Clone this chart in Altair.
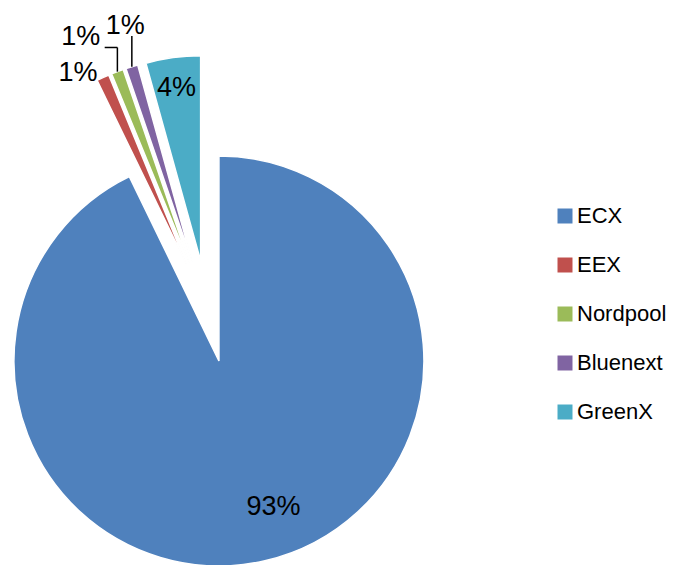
import math
import altair as alt
import pandas as pd

# ---- data ----
categories = ["ECX", "EEX", "Nordpool", "Bluenext", "GreenX"]
shares = [92.8, 1.0, 0.95, 0.95, 4.3]
colors = ["#4F81BD", "#C0504D", "#9BBB59", "#8064A2", "#4BACC6"]

# ---- layout (not data) ----
W, H = 667, 557
CX, CY = 199.5, 303.3      # pie centre (plot px)
R = 205                    # radius
EXPLODE = 51               # explosion distance of every slice
FONT = "Liberation Sans"
# label placement: inside flag and small nudges (px) from default polar spot
label_layout = {
    "ECX": (True, 16, -22, False),
    "EEX": (False, -14.6, 17.7, False),
    "Nordpool": (False, -27.9, -10.8, True),
    "Bluenext": (False, 0.8, -16.8, True),
    "GreenX": (True, -1, -2, False),
}

df = pd.DataFrame({"category": categories, "share": shares,
                   "order": list(range(len(categories)))})
df["inside"] = [label_layout[c][0] for c in categories]
df["ndx"] = [label_layout[c][1] for c in categories]
df["ndy"] = [label_layout[c][2] for c in categories]
df["leader"] = [label_layout[c][3] for c in categories]

base = (
    alt.Chart(df)
    .transform_joinaggregate(total="sum(share)")
    .transform_window(cum="sum(share)", sort=[alt.SortField("order")], frame=[None, 0])
    .transform_calculate(
        start="(datum.cum - datum.share) / datum.total",
        end="datum.cum / datum.total",
        mid="PI * (2 * datum.cum - datum.share) / datum.total",
    )
    .transform_calculate(
        cx=f"{CX} + {EXPLODE} * sin(datum.mid)",
        cy=f"{CY} - {EXPLODE} * cos(datum.mid)",
        lr=f"datum.inside ? {0.84 * R} : {R + 25}",
        label="format(datum.share / 100, '.0%')",
    )
    .transform_calculate(
        lx="datum.cx + datum.lr * sin(datum.mid) + datum.ndx",
        ly="datum.cy - datum.lr * cos(datum.mid) + datum.ndy",
        ex=f"datum.cx + {R} * sin(datum.mid)",
        ey=f"datum.cy - {R} * cos(datum.mid)",
    )
    .transform_calculate(
        ky="datum.ly + 10",
        kx2="min(datum.lx + 24, datum.ex)",
    )
)

slices = base.mark_arc(radius=R, stroke="white", strokeWidth=1.5).encode(
    x=alt.X("cx:Q", scale=None, axis=None),
    y=alt.Y("cy:Q", scale=None, axis=None),
    theta=alt.Theta("start:Q", stack=False,
                    scale=alt.Scale(domain=[0, 1], range=[0, 2 * math.pi])),
    theta2="end:Q",
    color=alt.Color(
        "category:N",
        sort=categories,
        scale=alt.Scale(domain=categories, range=colors),
        legend=alt.Legend(
            title=None, orient="none", legendX=546, legendY=197,
            symbolType="square", symbolSize=225, symbolStrokeWidth=0,
            labelFontSize=22, labelFont=FONT, labelColor="black",
            rowPadding=27, labelOffset=1, padding=0, labelLimit=200,
        ),
    ),
)

labels = base.mark_text(font=FONT, fontSize=27, color="black",
                        align="center", baseline="middle").encode(
    x=alt.X("lx:Q", scale=None, axis=None),
    y=alt.Y("ly:Q", scale=None, axis=None),
    text="label:N",
)

lead = base.transform_filter("datum.leader")
lead1 = lead.mark_rule(color="black", strokeWidth=1.5).encode(
    x=alt.X("ex:Q", scale=None, axis=None), y=alt.Y("ey:Q", scale=None, axis=None),
    x2="ex:Q", y2="ky:Q",
)
lead2 = lead.mark_rule(color="black", strokeWidth=1.5).encode(
    x=alt.X("ex:Q", scale=None, axis=None), y=alt.Y("ky:Q", scale=None, axis=None),
    x2="kx2:Q", y2="ky:Q",
)

chart = (
    alt.layer(slices, lead1, lead2, labels)
    .properties(width=W, height=H, padding=0, autosize="none")
    .configure_view(stroke=None)
)

chart.save("out.html", embed_options={"renderer": "svg", "actions": False})
